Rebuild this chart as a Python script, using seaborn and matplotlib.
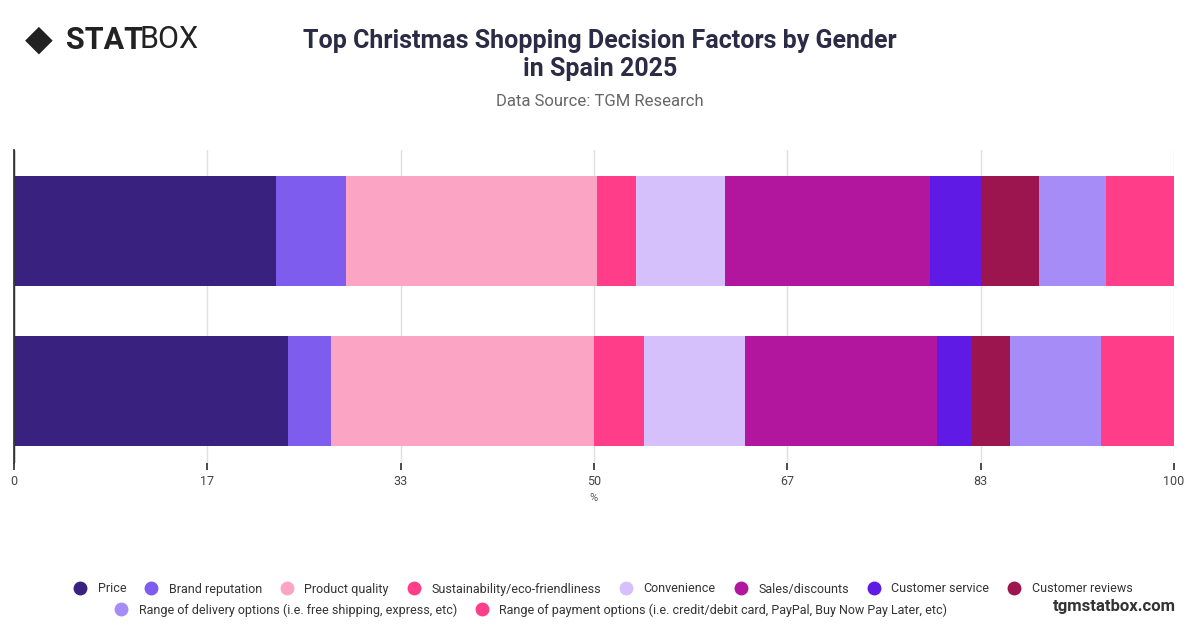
import numpy as np
import matplotlib.pyplot as plt
import seaborn as sns
from matplotlib.lines import Line2D

# Data (percent shares per gender)
groups = ["Male", "Female"]
factors = ["Price", "Brand reputation", "Product quality", "Sustainability/eco-friendliness",
           "Convenience", "Sales/discounts", "Customer service", "Customer reviews",
           "Range of delivery options (i.e. free shipping, express, etc)",
           "Range of payment options (i.e. credit/debit card, PayPal, Buy Now Pay Later, etc)"]
male = [22.6, 6.0, 21.7, 3.3, 7.7, 17.7, 4.4, 5.0, 5.7, 5.9]
female = [23.6, 3.7, 22.7, 4.3, 8.7, 16.6, 3.0, 3.3, 7.8, 6.3]
colors = ["#392180", "#7e5ced", "#fca4c4", "#ff3d88", "#d5c0fb",
          "#b2169f", "#5f1ae6", "#9c154e", "#a58cf7", "#ff3d88"]
ticks = [0, 100 / 6, 100 / 3, 50, 200 / 3, 500 / 6, 100]

sns.set_theme(style="white")
plt.rcParams['font.family'] = ['Roboto', 'DejaVu Sans']

fig = plt.figure(figsize=(12, 6.28), dpi=100)
ax = fig.add_axes([14 / 1200, 1 - 463 / 628, 1160 / 1200, 313 / 628])

vals = np.array([male, female])
left = np.zeros(2)
ypos = [0, 1]
for i, f in enumerate(factors):
    ax.barh(ypos, vals[:, i], left=left, height=0.69, color=colors[i], edgecolor="none", zorder=3)
    left += vals[:, i]

ax.set_xlim(0, 100)
ax.set_ylim(1.45, -0.506)
ax.set_yticks([])
ax.set_xticks(ticks)
ax.set_xticklabels([str(round(t)) for t in ticks], fontsize=9, color="#444444")
ax.set_xlabel("%", fontsize=8, color="#555555")
ax.grid(axis="x", color="#e0e0e0", lw=1, zorder=0)
for s in ["top", "right", "bottom"]:
    ax.spines[s].set_visible(False)
ax.spines["left"].set_color("#333333")
ax.tick_params(axis="x", length=5, color="#333333", bottom=True)
ax.axvline(0, color="#333333", lw=1, zorder=4)

fig.text(0.5, 1 - 55 / 628, "Top Christmas Shopping Decision Factors by Gender\nin Spain 2025",
         ha="center", va="center", fontsize=18, fontweight="bold", color="#2b2b45", linespacing=1.25)
fig.text(0.5, 1 - 101 / 628, "Data Source: TGM Research", ha="center", va="center",
         fontsize=12, color="#666666")

# logo
fig.text(25 / 1200, 1 - 40 / 628, "◆", fontsize=26, color="#222222", va="center", ha="left",
         family="DejaVu Sans")
fig.text(66 / 1200, 1 - 40 / 628, "STAT", fontsize=22, fontweight="bold", color="#222222", va="center")
fig.text(140 / 1200, 1 - 40 / 628, "BOX", fontsize=22, color="#222222", va="center")
fig.text(1176 / 1200, 1 - 606 / 628, "tgmstatbox.com", fontsize=12, fontweight="bold",
         color="#333333", ha="right", va="center")


def handles(idx):
    return [Line2D([0], [0], marker="o", ls="", markersize=10, markerfacecolor=colors[i],
                   markeredgecolor="none", label=factors[i]) for i in idx]


kw = dict(frameon=False, fontsize=9, handletextpad=0.4, columnspacing=1.0,
          labelcolor="#333333", loc="center")
fig.legend(handles=handles(range(8)), ncol=8, bbox_to_anchor=(0.5, 1 - 589 / 628), **kw)
fig.legend(handles=handles([8, 9]), ncol=2, bbox_to_anchor=(0.44, 1 - 610 / 628), **kw)

fig.savefig("out.png", dpi=100)
